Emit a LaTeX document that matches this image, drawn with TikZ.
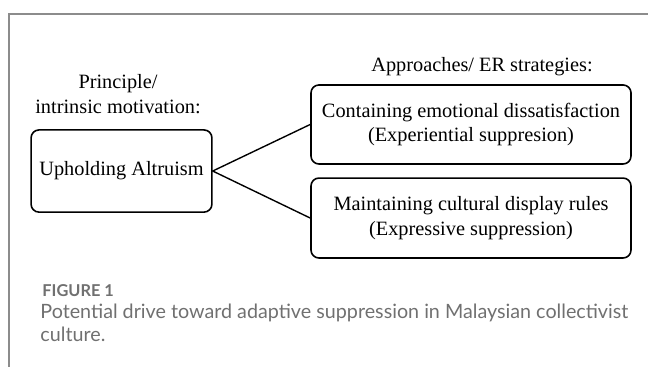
\documentclass[tikz,border=0pt]{standalone}
\usepackage{fontspec}
\setmainfont{Liberation Serif}
\newfontfamily\capfont{Lato}
\usetikzlibrary{positioning}
\definecolor{frm}{HTML}{8C8C8C}
\definecolor{capc}{HTML}{707070}
\tikzset{
  box/.style={draw,line width=0.8pt,rounded corners=4pt,align=center,inner sep=0pt,font=\fontsize{10.2}{12.5}\selectfont},
  lbl/.style={align=center,inner sep=0pt,font=\fontsize{10.2}{12.5}\selectfont},
  ln/.style={line width=0.7pt},
  captxt/.style={align=left,inner sep=0pt,text=capc},
}

\begin{document}
\begin{tikzpicture}
  \useasboundingbox (0,0) rectangle (11.43,6.474);
  % frame
  \draw[frm,line width=0.7pt] (11.43,6.227) -- (0.159,6.227) -- (0.159,0);
  % headings
  \node[lbl] (prin) at (2.082,4.816) {Principle/\\intrinsic motivation:};
  \node[lbl,anchor=base] (appr) at (8.502,5.204) {Approaches/ ER strategies:};
  % boxes
  \node[box,minimum width=3.19cm,minimum height=1.45cm] (alt) at (2.143,3.457) {Upholding Altruism};
  \node[box,minimum width=5.645cm,minimum height=1.394cm] (cont) at (8.308,4.278) {Containing emotional dissatisfaction\\(Experiential suppresion)};
  \node[box,minimum width=5.645cm,minimum height=1.41cm] (mnt) at (8.308,2.628) {Maintaining cultural display rules\\(Expressive suppression)};
  \draw[ln] (cont.west) -- (alt.east) -- (mnt.west);
  % caption
  \node[captxt,anchor=base west,font=\capfont\bfseries\fontsize{8.2}{10}\selectfont] (fig) at (0.741,1.252) {FIGURE 1};
  \node[captxt,anchor=north west,font=\capfont\fontsize{9.9}{11.5}\selectfont] (txt) at (0.706,1.111) {Potential drive toward adaptive suppression in Malaysian collectivist\\culture.};
\end{tikzpicture}
\end{document}
